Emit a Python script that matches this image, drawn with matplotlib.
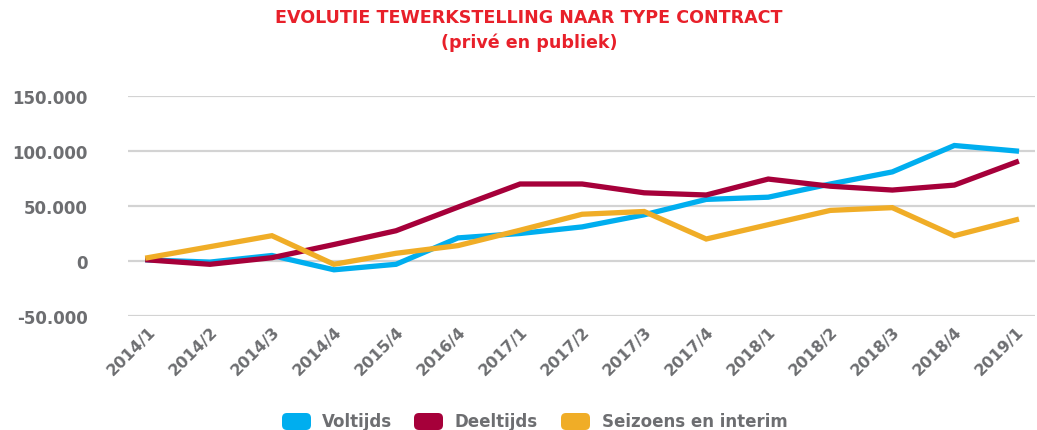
import matplotlib
matplotlib.use("Agg")
import matplotlib.pyplot as plt
from matplotlib.patches import FancyBboxPatch
from matplotlib.transforms import IdentityTransform

categories = ["2014/1", "2014/2", "2014/3", "2014/4", "2015/4", "2016/4", "2017/1",
              "2017/2", "2017/3", "2017/4", "2018/1", "2018/2", "2018/3", "2018/4", "2019/1"]
voltijds = [1000, -1000, 5000, -8000, -3000, 21000, 25000, 31000, 42000, 56000,
            58000, 70000, 81000, 105000, 100000]
deeltijds = [1000, -3000, 3000, 15000, 27500, 49000, 70000, 70000, 62000, 60000,
             74500, 68000, 64500, 69000, 90000]
seizoens = [3000, 13000, 23000, -3000, 7000, 14000, 28000, 42500, 45000, 20000,
            33000, 46000, 48500, 23000, 37500]
series_names = ["Voltijds", "Deeltijds", "Seizoens en interim"]
yticks = [-50000, 0, 50000, 100000, 150000]
ytick_labels = ["-50.000", "0", "50.000", "100.000", "150.000"]

colors = ["#00AEEF", "#A6003A", "#F0AD27"]
gray = "#6D6E71"
title_red = "#E8202A"
font = "DejaVu Sans"

W, H = 1037, 431
fig = plt.figure(figsize=(W / 100, H / 100), dpi=100)
ax = fig.add_axes([128 / W, 1 - 317 / H, (1035 - 128) / W, (317 - 97) / H])

x = list(range(len(categories)))
for vals, c in zip([voltijds, deeltijds, seizoens], colors):
    ax.plot(x, vals, color=c, lw=3.8, solid_joinstyle="miter", zorder=3)

ax.set_xlim(-0.32, 14.3)
ax.set_ylim(-50000, 150000)
ax.set_yticks(yticks)
ax.set_yticklabels(ytick_labels, fontsize=12, fontweight="bold", color=gray, family=font)
ax.set_xticks(x)
ax.set_xticklabels(categories, rotation=45, ha="right", rotation_mode="anchor",
                   fontsize=11.5, fontweight="bold", color=gray, family=font)
ax.tick_params(axis="y", length=0, pad=29)
ax.tick_params(axis="x", length=0, pad=5)
ax.yaxis.grid(True, color="#D3D3D3", lw=1.6)
ax.set_axisbelow(True)
for s in ax.spines.values():
    s.set_visible(False)

fig.text(529 / W, 1 - 18 / H, "EVOLUTIE TEWERKSTELLING NAAR TYPE CONTRACT", ha="center", va="center",
         fontsize=12.6, fontweight="bold", color=title_red, family=font)
fig.text(529 / W, 1 - 43 / H, "(privé en publiek)", ha="center", va="center",
         fontsize=12.6, fontweight="bold", color=title_red, family=font)

# legend
legend_items = [(282, 322), (414, 455), (561, 602)]
for (px, tx), name, c in zip(legend_items, series_names, colors):
    p = FancyBboxPatch((px, H - 431), 29, 17,
                       boxstyle="round,pad=0,rounding_size=5",
                       transform=IdentityTransform(), facecolor=c, edgecolor="none")
    fig.patches.append(p)
    fig.text(tx / W, 1 - 422 / H, name, ha="left", va="center", fontsize=12,
             fontweight="bold", color=gray, family=font)

fig.savefig("out.png", dpi=100, facecolor="white")
